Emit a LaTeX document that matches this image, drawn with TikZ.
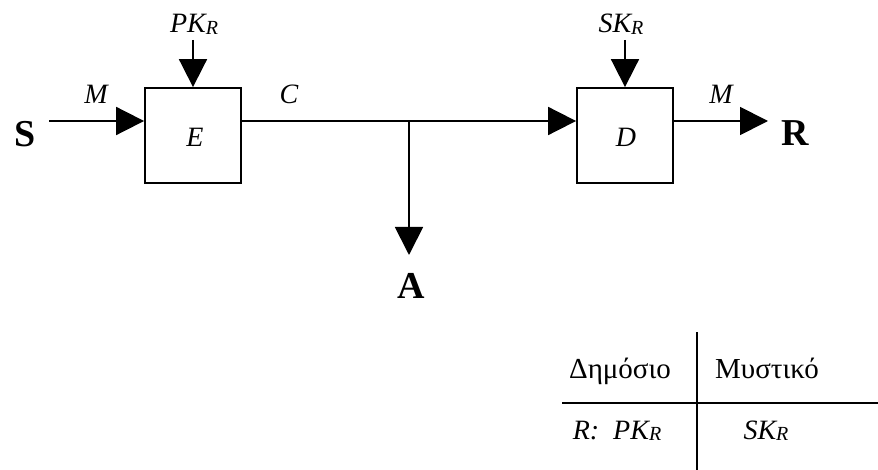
\documentclass[tikz,border=0pt]{standalone}
\usepackage{fontspec}
\setmainfont{Liberation Serif}
\usetikzlibrary{arrows.meta}
\newcommand\subr{\raisebox{-1.5pt}{\fontsize{20}{24}\selectfont\itshape R}}
\tikzset{
  lbl/.style={inner sep=0pt, anchor=base, font=\fontsize{28}{34}\selectfont\itshape},
  big/.style={inner sep=0pt, anchor=base, font=\fontsize{38}{44}\selectfont\bfseries},
  tbl/.style={inner sep=0pt, anchor=base, font=\fontsize{29}{34}\selectfont},
  blk/.style={draw, line width=1.8pt, minimum width=96pt, minimum height=95pt, inner sep=0pt},
  conn/.style={line width=1.8pt, -{Triangle[length=28pt,width=28pt]}},
  rule/.style={line width=1.8pt}
}
\begin{document}
\begin{tikzpicture}[x=1pt,y=-1pt]
\useasboundingbox (0,0) rectangle (878,470);
\node[blk] (E) at (193,135.5) {};
\node[blk] (D) at (625,135.5) {};
\node[lbl] (Et) at (195,147) {E};
\node[lbl] (Dt) at (626,147) {D};
\coordinate (sstart) at (49,121);
\coordinate (br) at (409,121);
\coordinate (atip) at (409,255);
\coordinate (rtip) at (768,121);
\coordinate (pk) at (193,40);
\coordinate (sk) at (625,40);
\node[big] (S) at (25,147) {S};
\node[big] (R) at (795,146) {R};
\node[big] (A) at (411,299) {A};
\node[lbl] (M1) at (96,104) {M};
\node[lbl] (C) at (289,104) {C};
\node[lbl] (M2) at (721,104) {M};
\node[lbl] (PK) at (194,33) {PK\subr};
\node[lbl] (SK) at (621,33) {SK\subr};
\draw[conn] (sstart) -- (E.west |- sstart);
\draw[conn] (pk) -- (E.north);
\draw[conn] (sk) -- (D.north);
\draw[conn] (E.east |- sstart) -- (D.west |- sstart);
\draw[conn] (br) -- (atip);
\draw[conn] (D.east |- sstart) -- (rtip);
% table
\coordinate (vt) at (697,332);
\coordinate (vb) at (697,470);
\coordinate (hl) at (562,403);
\coordinate (hr) at (878,403);
\draw[rule] (vt) -- (vb);
\draw[rule] (hl) -- (hr);
\node[tbl] (pub) at (620,378) {Δημόσιο};
\node[tbl] (sec) at (767,378) {Μυστικό};
\node[lbl] (rpk) at (617,439) {R:\ \ PK\subr};
\node[lbl] (rsk) at (766,439) {SK\subr};
\end{tikzpicture}
\end{document}
